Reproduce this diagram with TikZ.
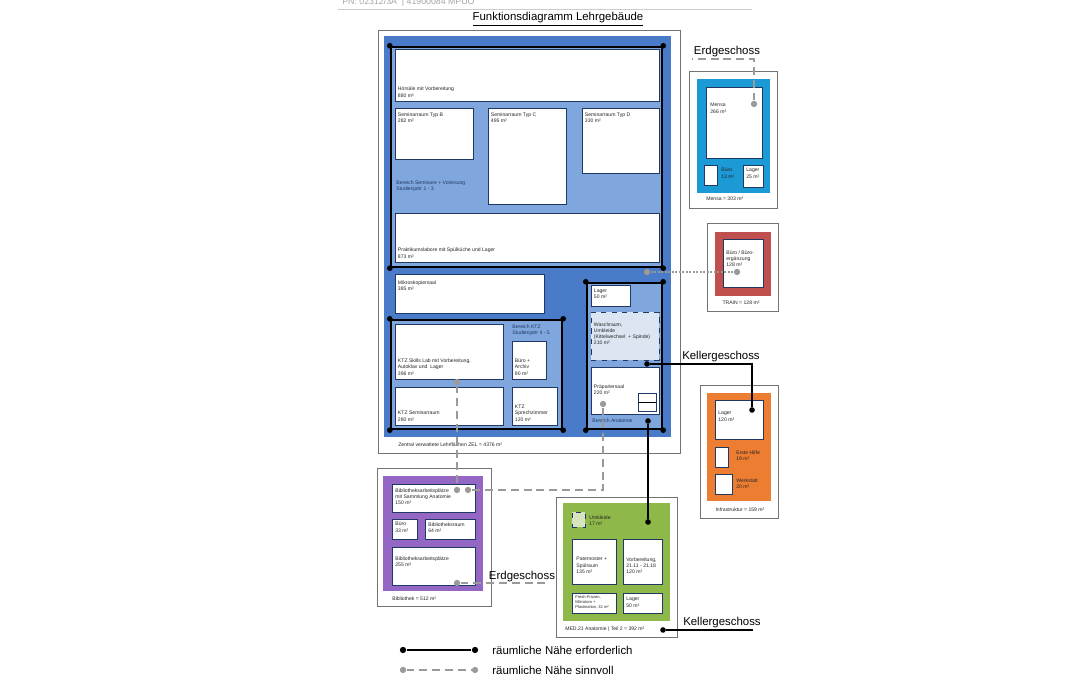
\documentclass[tikz,border=0pt]{standalone}
\usepackage{fontspec}
\setmainfont{Liberation Sans}
\usetikzlibrary{positioning,fit}

\definecolor{zelblau}{HTML}{4A7BC8}
\definecolor{zelhell}{HTML}{80A7DD}
\definecolor{zelrand}{HTML}{1F3864}
\definecolor{waschblau}{HTML}{DCE6F2}
\definecolor{mensablau}{HTML}{1B9AD6}
\definecolor{trainrot}{HTML}{C0504D}
\definecolor{infraorange}{HTML}{ED7D31}
\definecolor{biblila}{HTML}{9467C4}
\definecolor{medgruen}{HTML}{8FB84A}
\definecolor{umkgruen}{HTML}{D7E4BD}
\definecolor{nahgrau}{HTML}{9A9A9A}

\begin{document}
\begin{tikzpicture}[
    x=0.02cm, y=-0.02cm,
    font=\fontsize{2.9}{3.5}\selectfont,
    fr/.style={draw=black!55, fill=white, line width=0.5pt, inner sep=0pt},
    pan/.style={fill=#1, inner sep=0pt},
    rm/.style={draw=zelrand, fill=white, line width=0.4pt, inner sep=0pt},
    bx/.style={draw, fill=zelhell, line width=1.4pt, inner sep=0pt},
    tx/.style={inner sep=0pt, align=left, anchor=north west, text=black!85},
    lab/.style={inner sep=0pt, font=\fontsize{6.5}{7.5}\selectfont},
    bdot/.style={circle, fill=black, minimum size=3.2pt, inner sep=0pt},
    gdot/.style={circle, fill=nahgrau, minimum size=3.6pt, inner sep=0pt},
    req/.style={line width=1.4pt},
    opt/.style={nahgrau, line width=1.1pt, dash pattern=on 4.5pt off 2.8pt},
]
    \useasboundingbox (0,0) rectangle (1080,675);
    \fill[white] (0,0) rectangle (1080,675);

    % Kopf
    \node[lab, anchor=west, text=black!35, font=\fontsize{5}{6}\selectfont] (pn) at (342,2) {PN: 02312/3A \ |\ 41900084 MPUO};
    \draw[black!20, line width=0.4pt] (338,9) -- (752,9);
    \node[lab] (titel) at (558,19) {\underline{Funktionsdiagramm Lehrgebäude}};

    % ZEL
    \node[fr, fit={(378,30) (680,453)}] (zel) {};
    \node[pan=zelblau, fit={(384,36) (671,437)}] (zelp) {};
    \node[bx, fit={(391,47) (662,267)}] (sem) {};
    \node[bx, fit={(391,320) (562,429)}] (ktz) {};
    \node[bx, fit={(587,283) (662,429)}] (ana) {};
    \foreach \b in {sem,ktz,ana}
        \foreach \c in {north west,north east,south west,south east}
            \fill (\b.\c) circle (1.6pt);

    \node[rm, fit={(395,49) (659,101)}] (hoer) {};
    \node[rm, fit={(395,108) (473,159)}] (semb) {};
    \node[rm, fit={(488,108) (566,204)}] (semc) {};
    \node[rm, fit={(582,108) (659,173)}] (semd) {};
    \node[rm, fit={(395,213) (659,262)}] (prak) {};
    \node[rm, fit={(395,274) (544,313)}] (mikro) {};
    \node[rm, fit={(395,324) (503,379)}] (skill) {};
    \node[rm, fit={(512,341) (546,379)}] (ktzbuero) {};
    \node[rm, fit={(395,387) (503,425)}] (ktzsem) {};
    \node[rm, fit={(512,387) (557,425)}] (ktzspr) {};
    \node[rm, fit={(591,285) (630,306)}] (analager) {};
    \node[rm, dashed, fill=waschblau, fit={(591,312) (659,360)}] (wasch) {};
    \node[rm, fit={(591,367) (659,414)}] (praep) {};
    \node[rm, fit={(638,393) (656,411)}] (praepsym) {};
    \draw[line width=0.3pt] (praepsym.west) -- (praepsym.east);

    \node[tx, anchor=south west, above right=2.2pt and 1.7pt of hoer.south west] (hoer-t) {Hörsäle mit Vorbereitung\\880 m²};
    \node[tx, below right=2.5pt and 1.7pt of semb.north west] (semb-t) {Seminarraum Typ B\\282 m²};
    \node[tx, below right=2.5pt and 1.7pt of semc.north west] (semc-t) {Seminarraum Typ C\\495 m²};
    \node[tx, below right=2.5pt and 1.7pt of semd.north west] (semd-t) {Seminarraum Typ D\\330 m²};
    \node[tx, text=zelrand] (sem-t) at (396,180) {Bereich Seminare + Vorlesung\\Studienjahr 1 - 3};
    \node[tx, above right=2.2pt and 1.7pt of prak.south west] (prak-t) {Praktikumslabore mit Spülküche und Lager\\873 m²};
    \node[tx, below right=4pt and 1.7pt of mikro.north west] (mikro-t) {Mikroskopiersaal\\385 m²};
    \node[tx, text=zelrand] (ktz-t) at (512,324) {Bereich KTZ\\Studienjahr 4 - 5};
    \node[tx, above right=2.2pt and 1.7pt of skill.south west] (skill-t) {KTZ Skills Lab mit Vorbereitung,\\Autoklav und \ Lager\\396 m²};
    \node[tx, above right=2.2pt and 1.7pt of ktzbuero.south west] (ktzbuero-t) {Büro +\\Archiv\\90 m²};
    \node[tx, above right=2.2pt and 1.7pt of ktzsem.south west] (ktzsem-t) {KTZ Seminarraum\\280 m²};
    \node[tx, above right=2.2pt and 1.7pt of ktzspr.south west] (ktzspr-t) {KTZ\\Sprechzimmer\\120 m²};
    \node[tx, below right=2pt and 1.7pt of analager.north west] (analager-t) {Lager\\50 m²};
    \node[tx, below right=6pt and 1.7pt of wasch.north west] (wasch-t) {Waschraum,\\Umkleide\\(Kittelwechsel \ + Spinde)\\210 m²};
    \node[tx, below right=10pt and 1.7pt of praep.north west] (praep-t) {Präpariersaal\\220 m²};
    \node[tx, anchor=west, text=zelrand] (ana-t) at (592,421) {Bereich Anatomie};
    \node[tx, anchor=west] (zel-t) at (398,445) {Zentral verwaltete Lehrflächen ZEL = 4376 m²};

    % Mensa
    \node[fr, fit={(689,71) (777,208)}] (mensa) {};
    \node[pan=mensablau, fit={(697,79) (770,193)}] (mensap) {};
    \node[rm, fit={(706,87) (762,158)}] (mensar) {};
    \node[rm, fit={(704,165) (717,185)}] (mensabuero) {};
    \node[rm, fit={(743,165) (763,187)}] (mensalager) {};
    \node[tx] (mensar-t) at (710,103) {Mensa\\266 m²};
    \node[tx] (mensabuero-t) at (721,168) {Büro\\13 m²};
    \node[tx] (mensalager-t) at (746,168) {Lager\\25 m²};
    \node[tx, anchor=west] (mensa-t) at (706,199) {Mensa = 303 m²};

    % TRAIN
    \node[fr, fit={(707,223) (778,311)}] (train) {};
    \node[pan=trainrot, fit={(715,232) (771,296)}] (trainp) {};
    \node[rm, fit={(723,239) (763,287)}] (trainr) {};
    \node[tx] (trainr-t) at (726,250) {Büro / Büro-\\ergänzung\\128 m²};
    \node[tx, anchor=center] (train-t) at (741,303) {TRAIN = 128 m²};

    % Infrastruktur
    \node[fr, fit={(700,385) (778,518)}] (infra) {};
    \node[pan=infraorange, fit={(707,393) (771,501)}] (infrap) {};
    \node[rm, fit={(715,400) (763,439)}] (infralager) {};
    \node[rm, fit={(715,447) (728,467)}] (erstehilfe) {};
    \node[rm, fit={(715,474) (732,494)}] (werkstatt) {};
    \node[tx] (infralager-t) at (718,411) {Lager\\120 m²};
    \node[tx] (erstehilfe-t) at (736,450) {Erste Hilfe\\19 m²};
    \node[tx] (werkstatt-t) at (736,478) {Werkstatt\\20 m²};
    \node[tx, anchor=center] (infra-t) at (740,510) {Infrastruktur = 159 m²};

    % Bibliothek
    \node[fr, fit={(377,468) (491,606)}] (bib) {};
    \node[pan=biblila, fit={(383,476) (483,591)}] (bibp) {};
    \node[rm, fit={(392,484) (475,512)}] (bibsamm) {};
    \node[rm, fit={(392,519) (417,539)}] (bibbuero) {};
    \node[rm, fit={(425,519) (475,539)}] (bibraum) {};
    \node[rm, fit={(392,547) (475,585)}] (bibarb) {};
    \node[tx] (bibsamm-t) at (395,488) {Bibliotheksarbeitsplätze\\mit Sammlung Anatomie\\150 m²};
    \node[tx] (bibbuero-t) at (395,522) {Büro\\33 m²};
    \node[tx] (bibraum-t) at (428,522) {Bibliotheksraum\\64 m²};
    \node[tx] (bibarb-t) at (395,556) {Bibliotheksarbeitsplätze\\255 m²};
    \node[tx, anchor=west] (bib-t) at (392,599) {Bibliothek = 512 m²};

    % MED.21
    \node[fr, fit={(556,497) (677,637)}] (med) {};
    \node[pan=medgruen, fit={(563,503) (670,621)}] (medp) {};
    \node[rm, dashed, fill=umkgruen, fit={(572,512) (585,527)}] (umk) {};
    \node[rm, fit={(572,539) (616,584)}] (pater) {};
    \node[rm, fit={(623,539) (662,584)}] (vorb) {};
    \node[rm, fit={(572,593) (616,613)}] (fresh) {};
    \node[rm, fit={(623,593) (662,613)}] (medlager) {};
    \node[tx] (umk-t) at (589,515) {Umkleide\\17 m²};
    \node[tx] (pater-t) at (576,557) {Paternoster +\\Spülraum\\135 m²};
    \node[tx] (vorb-t) at (626,557) {Vorbereitung,\\21.11 - 21.18\\120 m²};
    \node[tx, font=\fontsize{2.3}{2.9}\selectfont] (fresh-t) at (575,595) {Fresh-Frozen,\\Mikrotom +\\Plastination, 32 m²};
    \node[tx] (medlager-t) at (626,597) {Lager\\50 m²};
    \node[tx, anchor=west] (med-t) at (565,629) {MED.21 Anatomie | Teil 2 = 392 m²};

    % erforderlich
    \node[bdot] (d-wasch) at (647,364) {};
    \node[bdot] (d-infra) at (752,410) {};
    \node[bdot] (d-ana) at (648,421) {};
    \node[bdot] (d-med) at (648,522) {};
    \node[bdot] (d-medk) at (663,630) {};
    \coordinate (e-keller) at (753,630);
    \draw[req] (d-wasch) -| (d-infra);
    \draw[req] (d-ana) -- (d-med);
    \draw[req] (d-medk) -- (e-keller);

    % sinnvoll
    \node[gdot] (g-praep) at (603,404) {};
    \node[gdot] (g-bib2) at (468,490) {};
    \node[gdot] (g-skill) at (457,382) {};
    \node[gdot] (g-bib1) at (457,490) {};
    \node[gdot] (g-bib3) at (457,583) {};
    \coordinate (e-erd1) at (550,583);
    \node[gdot] (g-mensa) at (754,104) {};
    \coordinate (e-erd2) at (692,59);
    \node[gdot] (g-zel) at (647,272) {};
    \node[gdot] (g-train) at (737,272) {};
    \draw[opt] (g-praep) |- (g-bib2);
    \draw[opt] (g-skill) -- (g-bib1);
    \draw[opt] (g-bib3) -- (e-erd1);
    \draw[opt] (g-mensa) |- (e-erd2);
    \draw[opt, line width=0.8pt, dash pattern=on 1.2pt off 0.8pt] (g-zel) -- (g-train);

    \node[lab] (l-erd2) at (727,52) {Erdgeschoss};
    \node[lab] (l-kel1) at (721,357) {Kellergeschoss};
    \node[lab] (l-erd1) at (522,577) {Erdgeschoss};
    \node[lab] (l-kel2) at (722,623) {Kellergeschoss};

    % Legende
    \node[bdot, minimum size=3.6pt] (lg1a) at (403,650) {};
    \node[bdot, minimum size=3.6pt] (lg1b) at (475,650) {};
    \draw[req] (lg1a) -- (lg1b);
    \node[lab, anchor=west] (lg1-t) at (492,650) {räumliche Nähe erforderlich};
    \node[gdot] (lg2a) at (403,670) {};
    \node[gdot] (lg2b) at (475,670) {};
    \draw[opt] (lg2a) -- (lg2b);
    \node[lab, anchor=west] (lg2-t) at (492,670) {räumliche Nähe sinnvoll};
\end{tikzpicture}
\end{document}
